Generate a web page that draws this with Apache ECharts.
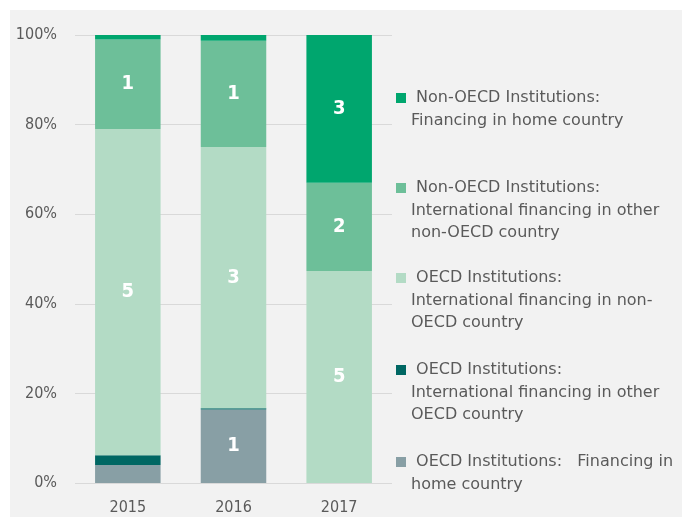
<!DOCTYPE html>
<html>
<head>
<meta charset="utf-8">
<script src="https://cdn.jsdelivr.net/npm/echarts@6/dist/echarts.min.js"></script>
<style>
  html, body { margin: 0; padding: 0; background: #fff; }
  #chart { width: 682px; height: 517px; }
</style>
</head>
<body>
<div id="chart"></div>
<script>
// categories and share of each group (percent of total), bottom to top
const years = ['2015', '2016', '2017'];
const oecdHome = [4.0, 16.4, 0];
const oecdOtherOecd = [2.2, 0.3, 0];
const oecdNonOecd = [72.8, 58.3, 47.3];
const nonOecdIntl = [20.0, 23.7, 19.7];
const nonOecdHome = [1.0, 1.3, 33.0];

// counts printed inside the bars (empty = no label)
const oecdHomeCount = ['', '1', ''];
const oecdOtherOecdCount = ['', '', ''];
const oecdNonOecdCount = ['5', '3', '5'];
const nonOecdIntlCount = ['1', '1', '2'];
const nonOecdHomeCount = ['', '', '3'];

const yTicks = [0, 20, 40, 60, 80, 100];

const names = [
  ' OECD Institutions:   Financing in\nhome country',
  ' OECD Institutions:\nInternational financing in other\nOECD country',
  ' OECD Institutions:\nInternational financing in non-\nOECD country',
  ' Non-OECD Institutions:\nInternational financing in other\nnon-OECD country',
  ' Non-OECD Institutions:\nFinancing in home country'
];
const colors = ['#889fa5', '#006763', '#b3dbc5', '#6dbf99', '#00a66e'];
const font = 'DejaVu Sans Condensed';

const chart = echarts.init(document.getElementById('chart'));

function makeSeries(i, values, counts) {
  return {
    name: names[i],
    type: 'bar',
    stack: 'total',
    barWidth: '62%',
    itemStyle: { color: colors[i] },
    label: {
      show: true,
      position: 'inside',
      color: '#fff',
      fontSize: 20,
      fontWeight: 'bold',
      fontFamily: font,
      formatter: p => counts[p.dataIndex]
    },
    data: values
  };
}

// one legend block per series; blank lines on top keep the icon
// level with the first line of text (legend text is centred on the icon)
const lh = 22.5;
const legendCenters = [98, 188, 278, 370, 462];
const legendOrder = [4, 3, 2, 1, 0];
const legends = legendOrder.map((idx, k) => {
  const lines = names[idx].split('\n').length;
  return {
    data: [names[idx]],
    left: 396,
    top: legendCenters[k] - (2 * lines - 1) * lh / 2,
    orient: 'vertical',
    icon: 'rect',
    itemWidth: 10,
    itemHeight: 10,
    padding: 0,
    selectedMode: false,
    formatter: name => '\n'.repeat(lines - 1) + name,
    textStyle: {
      color: '#5a5a5a',
      fontSize: 16,
      fontFamily: 'DejaVu Sans',
      lineHeight: lh
    }
  };
});

chart.setOption({
  animation: false,
  backgroundColor: '#fff',
  graphic: [{
    type: 'rect',
    z: -10,
    silent: true,
    shape: { x: 10, y: 10, width: 672, height: 507 },
    style: { fill: '#f2f2f2' }
  }],
  grid: { left: 75, right: 290, top: 35, bottom: 34 },
  legend: legends,
  xAxis: {
    type: 'category',
    data: years,
    axisLine: { show: false },
    axisTick: { show: false },
    axisLabel: { color: '#5a5a5a', fontSize: 16, fontFamily: font, margin: 17 }
  },
  yAxis: {
    type: 'value',
    min: 0,
    max: 100,
    interval: 20,
    axisLine: { show: false },
    axisTick: { show: false },
    splitLine: { lineStyle: { color: '#d9d9d9', width: 1 } },
    axisLabel: {
      color: '#5a5a5a',
      fontSize: 16,
      fontFamily: font,
      margin: 18,
      formatter: v => yTicks.includes(v) ? v + '%' : ''
    }
  },
  series: [
    makeSeries(0, oecdHome, oecdHomeCount),
    makeSeries(1, oecdOtherOecd, oecdOtherOecdCount),
    makeSeries(2, oecdNonOecd, oecdNonOecdCount),
    makeSeries(3, nonOecdIntl, nonOecdIntlCount),
    makeSeries(4, nonOecdHome, nonOecdHomeCount)
  ]
});
</script>
</body>
</html>
